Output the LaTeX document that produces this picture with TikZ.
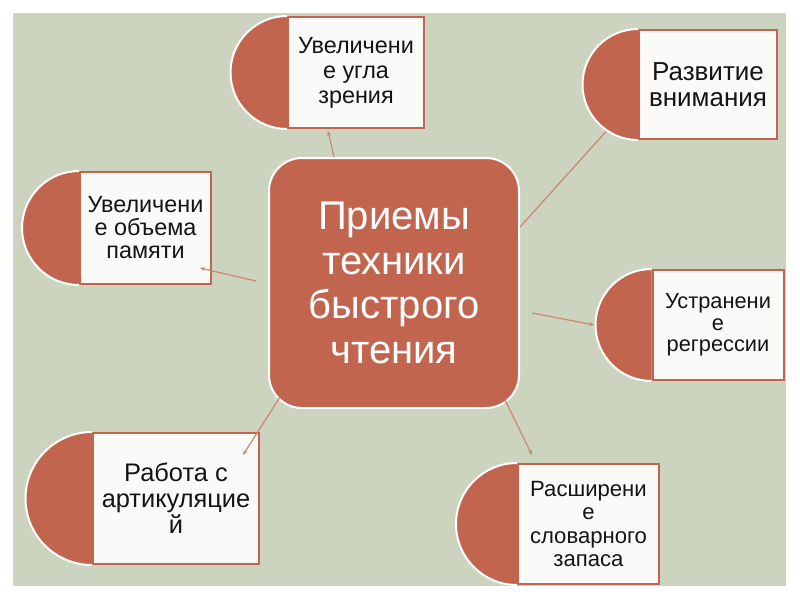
\documentclass[tikz,border=0pt]{standalone}
\usepackage{fontspec}
\setmainfont{Liberation Sans}
\usetikzlibrary{arrows.meta,positioning,calc}
\definecolor{slidegreen}{RGB}{204,211,190}
\definecolor{brick}{RGB}{193,101,79}
\definecolor{paper}{RGB}{250,250,248}
\definecolor{wire}{RGB}{201,137,112}
\definecolor{ink}{RGB}{20,20,20}
% half disc on the west side of a leaf box
\newcommand{\leafcap}[2]{%
  \fill[brick] (#1.north west) arc[start angle=270,end angle=90,radius=#2] -- cycle;
  \draw[white,line width=2pt] (#1.north west) arc[start angle=270,end angle=90,radius=#2];}
\tikzset{
  core/.style={draw=white,line width=2pt,fill=brick,rounded corners=33pt,minimum width=250pt,minimum height=250pt,text=white,align=center,font=\fontsize{40}{44.5}\selectfont},
  leaf/.style={draw=brick,line width=2pt,fill=paper,text=ink,align=center,inner sep=2pt},
  wirearrow/.style={-{Stealth[length=5pt,width=4pt]},draw=wire,line width=1.2pt}
}
\begin{document}
\begin{tikzpicture}[x=1pt,y=-1pt]
  \useasboundingbox (0,0) rectangle (800,600);
  \fill[white] (0,0) rectangle (800,600);
  \fill[slidegreen] (13,13) rectangle (786,586);

  % centre
  \node[core] (priemy) at (394,283) {Приемы\\техники\\быстрого\\чтения};

  % leaves
  \node[leaf,minimum width=136pt,minimum height=111pt,font=\fontsize{23.4}{25}\selectfont] (ugol) at (356,72.5) {Увеличени\\е угла\\зрения};
  \node[leaf,minimum width=138pt,minimum height=109pt,font=\fontsize{26}{25.5}\selectfont] (vnimanie) at (708,84.5) {Развитие\\внимания};
  \node[leaf,minimum width=131pt,minimum height=112pt,font=\fontsize{23.4}{23}\selectfont] (pamyat) at (145.5,228) {Увеличени\\е объема\\памяти};
  \node[leaf,minimum width=131pt,minimum height=110pt,font=\fontsize{21.8}{21.5}\selectfont] (regressia) at (718,325) {Устранени\\е\\регрессии};
  \node[leaf,minimum width=166pt,minimum height=131pt,font=\fontsize{25.4}{26}\selectfont] (artikul) at (176,498.5) {Работа с\\артикуляцие\\й};
  \node[leaf,minimum width=141pt,minimum height=120pt,font=\fontsize{22.1}{23.5}\selectfont] (slovar) at (588.5,524) {Расширени\\е\\словарного\\запаса};

  \leafcap{ugol}{56.5}
  \leafcap{vnimanie}{55.5}
  \leafcap{pamyat}{57}
  \leafcap{regressia}{56}
  \leafcap{artikul}{66.5}
  \leafcap{slovar}{61}

  % connectors
  \draw[wirearrow] ($(priemy.north)+(-60,0)$) -- ($(ugol.south)+(-28,2)$);
  \draw[draw=wire,line width=1.2pt] ($(priemy.east)+(0,-56)$) -- ($(vnimanie.west)+(-32,47)$);
  \draw[wirearrow] ($(priemy.west)+(-12,-2)$) -- ($(pamyat.south east)+(-12,-17)$);
  \draw[wirearrow] ($(priemy.east)+(12,30)$) -- ($(regressia.west)+(-57,0)$);
  \draw[wirearrow] ($(priemy.south west)+(12,-12)$) -- ($(artikul.north east)+(-17,23)$);
  \draw[wirearrow] ($(priemy.south east)+(-15,-9)$) -- ($(slovar.north west)+(15,-8)$);
\end{tikzpicture}
\end{document}
